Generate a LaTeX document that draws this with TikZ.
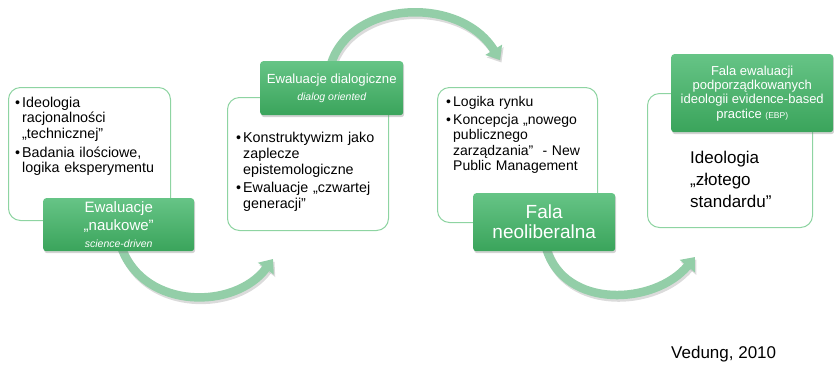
\documentclass[tikz,border=0pt]{standalone}
\usepackage{fontspec}
\setmainfont{Liberation Sans}
\usetikzlibrary{arrows.meta,shadows}
\pgfdeclarelayer{background}
\pgfsetlayers{background,main}
\definecolor{gbord}{HTML}{8ED4A2}
\definecolor{gtop}{HTML}{66C486}
\definecolor{gbot}{HTML}{3AA45B}
\definecolor{arrcol}{HTML}{93CEA8}
\newcommand\bitem[1]{\par\hangindent=7pt\hangafter=1\noindent\makebox[7pt][l]{•}#1}
\tikzset{
  wbox/.style={draw=gbord, line width=1pt, rounded corners=12pt, fill=white, anchor=north west},
  gbox/.style={rounded corners=3pt, top color=gtop, bottom color=gbot, text=white, align=center,
    anchor=north west, inner sep=2pt,
    drop shadow={opacity=0.35, shadow xshift=1pt, shadow yshift=-2pt}},
  btext/.style={anchor=north west, inner sep=0pt, align=left},
  bigarrow/.style={line width=8.5pt, draw=arrcol, -{Triangle[width=19pt,length=12pt]}},
  arrshadow/.style={line width=8.5pt, draw=black!40, opacity=0.35, -{Triangle[width=19pt,length=12pt]}},
}
\begin{document}
\begin{tikzpicture}[x=1pt,y=-1pt]
\useasboundingbox (0,0) rectangle (834,365);
% white boxes
\node[wbox, minimum width=162pt, minimum height=133pt] (w1) at (8,87) {};
\node[wbox, minimum width=161pt, minimum height=133pt] (w2) at (227,97) {};
\node[wbox, minimum width=160pt, minimum height=135pt] (w3) at (437,87) {};
\node[wbox, minimum width=165pt, minimum height=134pt] (w4) at (647,93) {};
% texts in white boxes
\node[btext, text width=155pt, font={\fontsize{14.3}{15.5}\selectfont}] (t1) at (15,88) {\parskip=3.5pt
  \bitem{Ideologia\newline racjonalności\newline „technicznej”}
  \bitem{Badania ilościowe,\newline logika eksperymentu}\par};
\node[btext, text width=155pt, font={\fontsize{14.3}{16}\selectfont}] (t2) at (236,124) {\parskip=2pt
  \bitem{Konstruktywizm jako\newline zaplecze\newline epistemologiczne}
  \bitem{Ewaluacje „czwartej\newline generacji”}\par};
\node[btext, text width=155pt, font={\fontsize{14}{15.5}\selectfont}] (t3) at (446,88) {\parskip=2.5pt
  \bitem{Logika rynku}
  \bitem{Koncepcja „nowego\newline publicznego\newline zarządzania”\ \ - New\newline Public Management}\par};
\node[btext, font={\fontsize{17}{22}\selectfont}] (t4) at (690,151) {Ideologia\\„złotego\\standardu”};
% green boxes
\node[gbox, minimum width=151pt, minimum height=53pt, font={\fontsize{15}{18}\selectfont}] (g1) at (43,198)
  {Ewaluacje\\„naukowe”\\[-1pt]{\fontsize{10.5}{12}\selectfont\itshape science-driven}};
\node[gbox, minimum width=143pt, minimum height=54pt, font={\fontsize{13.2}{15}\selectfont}] (g2) at (260,61)
  {Ewaluacje dialogiczne\\[2pt]{\fontsize{10.5}{12}\selectfont\itshape dialog oriented}};
\node[gbox, minimum width=142pt, minimum height=58pt, font={\fontsize{19}{20}\selectfont}] (g3) at (473,193)
  {Fala\\neoliberalna};
\node[gbox, minimum width=162pt, minimum height=78pt, font={\fontsize{13}{14.3}\selectfont}] (g4) at (671,54)
  {Fala ewaluacji\\podporządkowanych\\ideologii evidence-based\\practice {\fontsize{8.5}{10}\selectfont (EBP)}};
% citation
\node[anchor=west, inner sep=0pt, font={\fontsize{17}{19}\selectfont}] (cit) at (671,354) {Vedung, 2010};
% arrows
\coordinate (e1) at (273,259);
\coordinate (e2) at (500,60);
\coordinate (e3) at (695,257);
\begin{pgfonlayer}{background}
\draw[arrshadow, transform canvas={shift={(1.5pt,-2.5pt)}}] ([xshift=3pt,yshift=3pt]g1.south) .. controls (145,310) and (235,310) .. (e1);
\draw[bigarrow] ([xshift=3pt,yshift=3pt]g1.south) .. controls (145,310) and (235,310) .. (e1);
\draw[arrshadow, transform canvas={shift={(1.5pt,-2.5pt)}}] ([xshift=-1pt,yshift=-4pt]g2.north) .. controls (350,0) and (460,-5) .. (e2);
\draw[bigarrow] ([xshift=-1pt,yshift=-4pt]g2.north) .. controls (350,0) and (460,-5) .. (e2);
\draw[arrshadow, transform canvas={shift={(1.5pt,-2.5pt)}}] ([xshift=2pt,yshift=3pt]g3.south) .. controls (565,310) and (655,305) .. (e3);
\draw[bigarrow] ([xshift=2pt,yshift=3pt]g3.south) .. controls (565,310) and (655,305) .. (e3);
\end{pgfonlayer}
\end{tikzpicture}
\end{document}
